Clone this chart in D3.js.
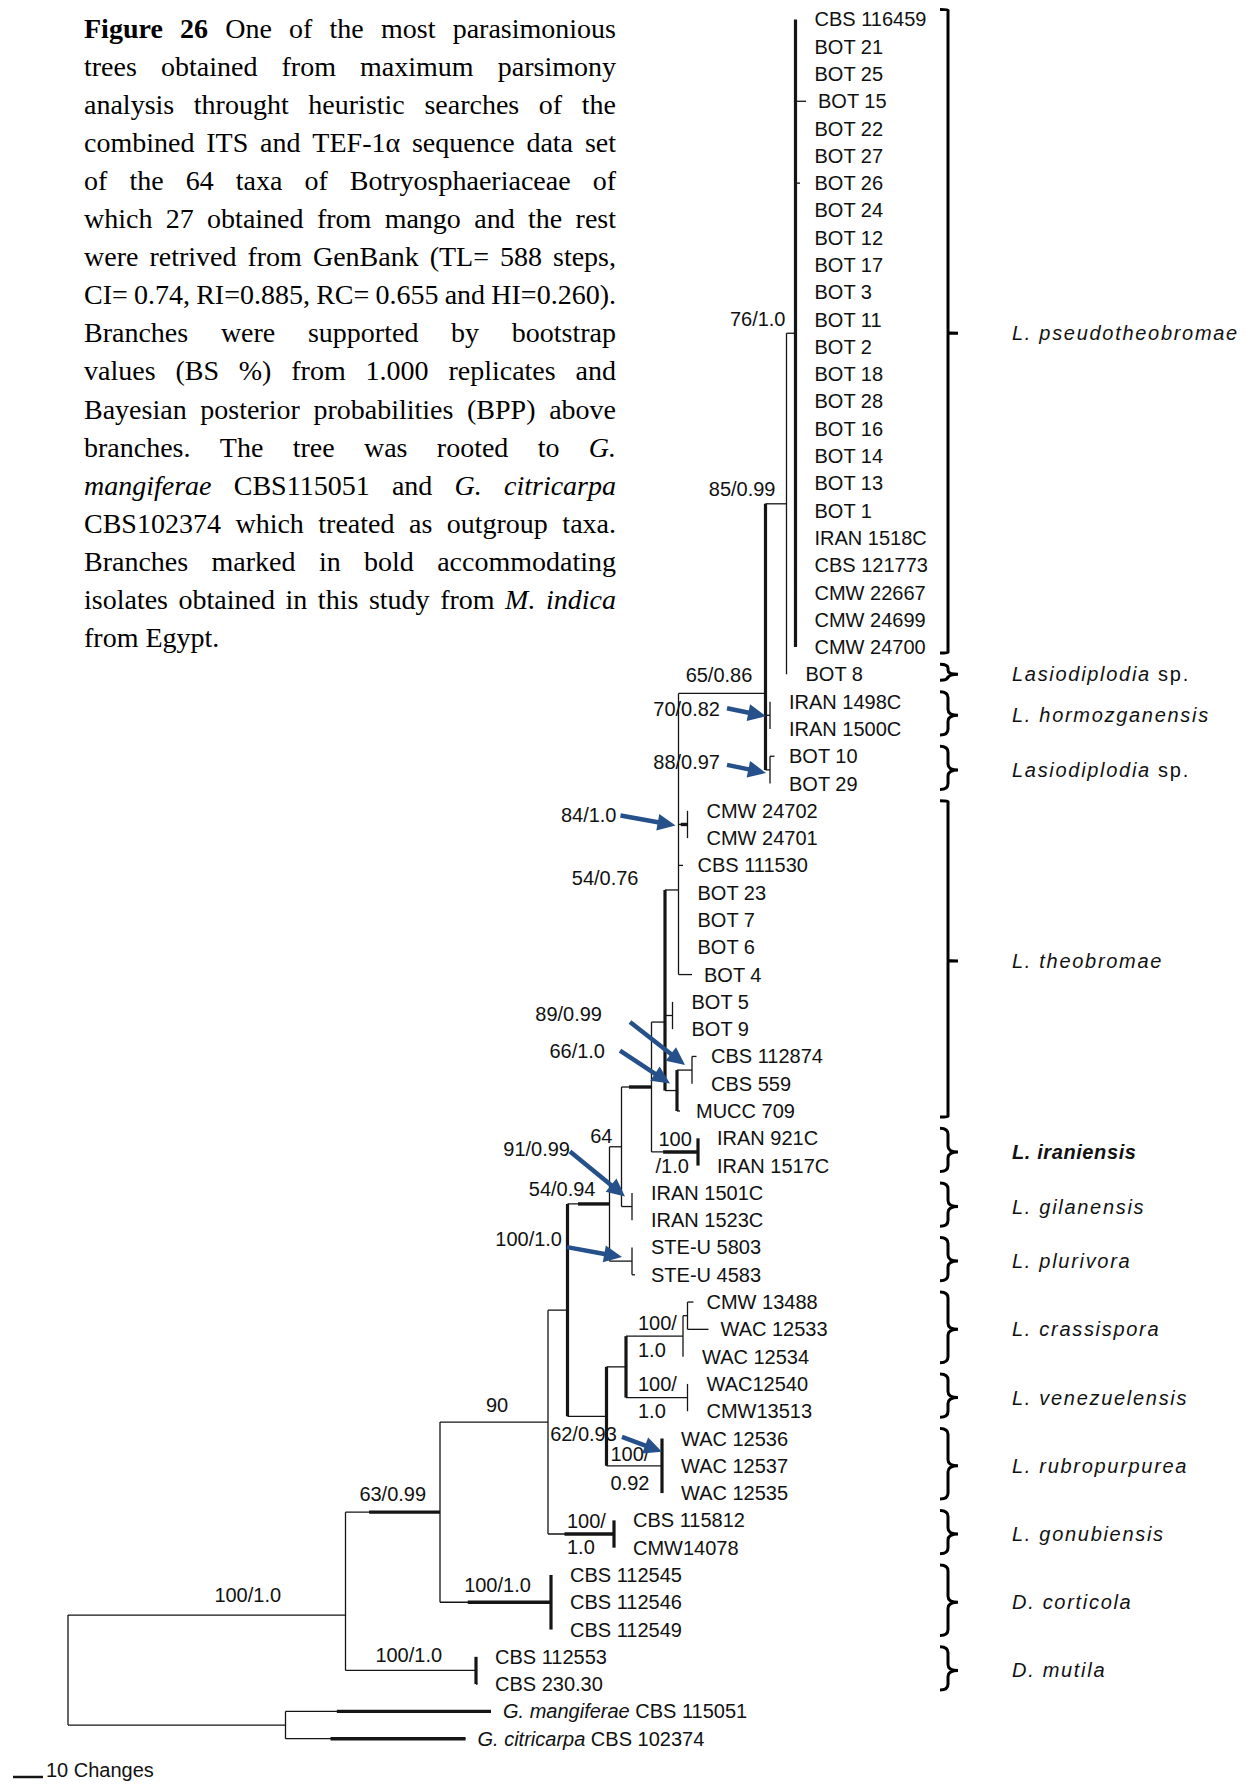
<!DOCTYPE html>
<html>
<head>
<meta charset="utf-8">
<script src="https://cdn.jsdelivr.net/npm/d3@7"></script>
<style>
body { margin: 0; background: #fff; }
svg { display: block; }
.taxon, .support, .scale { font-family: "Liberation Sans", Arial, sans-serif; font-size: 20px; fill: #111; }
.species { font-family: "Liberation Sans", Arial, sans-serif; font-size: 20px; fill: #111; letter-spacing: 1.7px; }
.caption text { font-family: "Liberation Serif", "Times New Roman", serif; font-size: 28px; fill: #000; }
</style>
</head>
<body>
<svg id="chart" width="1253" height="1787"></svg>
<script>
// Taxa, top to bottom as listed in the figure
const taxa = [
  "CBS 116459", "BOT 21", "BOT 25", "BOT 15", "BOT 22", "BOT 27", "BOT 26", "BOT 24",
  "BOT 12", "BOT 17", "BOT 3", "BOT 11", "BOT 2", "BOT 18", "BOT 28", "BOT 16",
  "BOT 14", "BOT 13", "BOT 1", "IRAN 1518C", "CBS 121773", "CMW 22667", "CMW 24699", "CMW 24700",
  "BOT 8", "IRAN 1498C", "IRAN 1500C", "BOT 10", "BOT 29", "CMW 24702", "CMW 24701", "CBS 111530",
  "BOT 23", "BOT 7", "BOT 6", "BOT 4", "BOT 5", "BOT 9", "CBS 112874", "CBS 559",
  "MUCC 709", "IRAN 921C", "IRAN 1517C", "IRAN 1501C", "IRAN 1523C", "STE-U 5803", "STE-U 4583", "CMW 13488",
  "WAC 12533", "WAC 12534", "WAC12540", "CMW13513", "WAC 12536", "WAC 12537", "WAC 12535", "CBS 115812",
  "CMW14078", "CBS 112545", "CBS 112546", "CBS 112549", "CBS 112553", "CBS 230.30",
  "G. mangiferae CBS 115051", "G. citricarpa CBS 102374"
];

// Tree edges: [node, parent, branch length in changes]
const edges = [
  ["root", null, 0],
  ["A", "root", 92.5],
  ["OUT", "root", 72.5],
  ["G. mangiferae CBS 115051", "OUT", 68.5],
  ["G. citricarpa CBS 102374", "OUT", 60],
  ["B", "A", 31.5],
  ["Dmut", "A", 43.5],
  ["CBS 112553", "Dmut", 0],
  ["CBS 230.30", "Dmut", 0.5],
  ["C", "B", 36],
  ["Dcort", "B", 37],
  ["CBS 112545", "Dcort", 0],
  ["CBS 112546", "Dcort", 0],
  ["CBS 112549", "Dcort", 0],
  ["D", "C", 6.5],
  ["Gonub", "C", 22],
  ["CBS 115812", "Gonub", 0],
  ["CMW14078", "Gonub", 0],
  ["E", "D", 13],
  ["G", "D", 14],
  ["F", "E", 6.5],
  ["Rubro", "E", 18.5],
  ["WAC 12536", "Rubro", 0],
  ["WAC 12537", "Rubro", 0],
  ["WAC 12535", "Rubro", 0],
  ["Crass", "F", 19],
  ["Crass2", "Crass", 1.5],
  ["CMW 13488", "Crass2", 2],
  ["WAC 12533", "Crass2", 7],
  ["WAC 12534", "Crass", 0],
  ["Venez", "F", 20.5],
  ["WAC12540", "Venez", 0],
  ["CMW13513", "Venez", 0],
  ["H", "G", 4],
  ["Pluri", "G", 7.5],
  ["STE-U 5803", "Pluri", 0],
  ["STE-U 4583", "Pluri", 1],
  ["Gilan", "H", 3.5],
  ["IRAN 1501C", "Gilan", 0],
  ["IRAN 1523C", "Gilan", 0],
  ["I", "H", 10],
  ["Iran", "I", 15.5],
  ["IRAN 921C", "Iran", 0],
  ["IRAN 1517C", "Iran", 0],
  ["J", "I", 4.5],
  ["N54", "J", 4.5],
  ["B59", "J", 2.5],
  ["BOT 5", "B59", 0],
  ["BOT 9", "B59", 0],
  ["N66", "J", 4],
  ["N89", "N66", 5],
  ["CBS 112874", "N89", 1.5],
  ["CBS 559", "N89", 0],
  ["MUCC 709", "N66", 1],
  ["N65", "N54", 29],
  ["N84", "N54", 3],
  ["CMW 24702", "N84", 0],
  ["CMW 24701", "N84", 0],
  ["CBS 111530", "N54", 1.5],
  ["BOT 23", "N54", 0],
  ["BOT 7", "N54", 0],
  ["BOT 6", "N54", 0],
  ["BOT 4", "N54", 4.5],
  ["N85", "N65", 7],
  ["N70", "N65", 1.5],
  ["IRAN 1498C", "N70", 0],
  ["IRAN 1500C", "N70", 0],
  ["N88", "N65", 1.5],
  ["BOT 10", "N88", 1.5],
  ["BOT 29", "N88", 0],
  ["BOT 8", "N85", 0],
  ["Pseudo", "N85", 3],
  ["CBS 116459", "Pseudo", 0],
  ["BOT 21", "Pseudo", 0],
  ["BOT 25", "Pseudo", 0],
  ["BOT 15", "Pseudo", 3.5],
  ["BOT 22", "Pseudo", 0],
  ["BOT 27", "Pseudo", 0],
  ["BOT 26", "Pseudo", 1.5],
  ["BOT 24", "Pseudo", 0],
  ["BOT 12", "Pseudo", 0],
  ["BOT 17", "Pseudo", 0],
  ["BOT 3", "Pseudo", 0],
  ["BOT 11", "Pseudo", 0],
  ["BOT 2", "Pseudo", 0],
  ["BOT 18", "Pseudo", 0],
  ["BOT 28", "Pseudo", 0],
  ["BOT 16", "Pseudo", 0],
  ["BOT 14", "Pseudo", 0],
  ["BOT 13", "Pseudo", 0],
  ["BOT 1", "Pseudo", 0],
  ["IRAN 1518C", "Pseudo", 0],
  ["CBS 121773", "Pseudo", 0],
  ["CMW 22667", "Pseudo", 0],
  ["CMW 24699", "Pseudo", 0],
  ["CMW 24700", "Pseudo", 0]
];

// nodes not drawn at the middle of their children (row)
const nodeRows = { A: 58.47, N65: 24.7, N54: 31.9, J: 36.74 };

// bootstrap / posterior support: [node, text above, text below]
const support = [
  ["Pseudo", "76/1.0"], ["N85", "85/0.99"], ["N65", "65/0.86"], ["N70", "70/0.82"],
  ["N88", "88/0.97"], ["N84", "84/1.0"], ["N54", "54/0.76"], ["N89", "89/0.99"],
  ["N66", "66/1.0"], ["Iran", "100", "/1.0"], ["H", "64"], ["Gilan", "91/0.99"],
  ["G", "54/0.94"], ["Pluri", "100/1.0"], ["Crass", "100/", "1.0"], ["Venez", "100/", "1.0"],
  ["E", "62/0.93"], ["Rubro", "100/", "0.92"], ["Gonub", "100/", "1.0"], ["C", "90"],
  ["B", "63/0.99"], ["Dcort", "100/1.0"], ["Dmut", "100/1.0"], ["A", "100/1.0"]
];

// nodes pointed at with an arrow
const arrowed = ["N70", "N88", "N84", "N89", "N66", "Gilan", "Pluri", "Rubro"];

// branches drawn in bold
const boldBranches = ["G. mangiferae CBS 115051", "G. citricarpa CBS 102374", "B", "Dcort", "Gonub", "Iran", "G", "I", "N84"];
const boldStems = ["D", "E", "F", "Rubro", "Dmut", "Dcort", "Iran", "Gonub", "N66", "J", "N65", "Pseudo"];

// species brackets: [italic name, plain suffix, first taxon, last taxon]
const groups = [
  ["L. pseudotheobromae", "", 0, 23],
  ["Lasiodiplodia", " sp.", 24, 24],
  ["L. hormozganensis", "", 25, 26],
  ["Lasiodiplodia", " sp.", 27, 28],
  ["L. theobromae", "", 29, 40],
  ["L. iraniensis", "", 41, 42],
  ["L. gilanensis", "", 43, 44],
  ["L. plurivora", "", 45, 46],
  ["L. crassispora", "", 47, 49],
  ["L. venezuelensis", "", 50, 51],
  ["L. rubropurpurea", "", 52, 54],
  ["L. gonubiensis", "", 55, 56],
  ["D. corticola", "", 57, 59],
  ["D. mutila", "", 60, 61]
];
const newSpecies = "L. iraniensis";

const scaleBar = [10, "10 Changes"];

// caption lines (**bold**, _italic_)
const captionLines = [
  "**Figure** **26** One of the most parasimonious",
  "trees obtained from maximum parsimony",
  "analysis throught heuristic searches of the",
  "combined ITS and TEF-1α sequence data set",
  "of the 64 taxa of Botryosphaeriaceae of",
  "which 27 obtained from mango and the rest",
  "were retrived from GenBank (TL= 588 steps,",
  "CI= 0.74, RI=0.885, RC= 0.655 and HI=0.260).",
  "Branches were supported by bootstrap",
  "values (BS %) from 1.000 replicates and",
  "Bayesian posterior probabilities (BPP) above",
  "branches. The tree was rooted to _G._",
  "_mangiferae_ CBS115051 and _G._ _citricarpa_",
  "CBS102374 which treated as outgroup taxa.",
  "Branches marked in bold accommodating",
  "isolates obtained in this study from _M._ _indica_",
  "from Egypt."
];

// ---- layout ----
const supportPos = {
  Pseudo: { ref: "start", anchor: "end", dx: -1, dy: -14 },
  N85:   { ref: "node", anchor: "end", dx: -11, dy: -15 },
  N65:   { ref: "mid", anchor: "middle", dx: -3, dy: -18 },
  N70:   { ref: "node", anchor: "end", dx: -50, dy: -6 },
  N88:   { ref: "node", anchor: "end", dx: -50, dy: -8 },
  N84:   { ref: "node", anchor: "end", dx: -71, dy: -9 },
  N54:   { ref: "node", anchor: "end", dx: -40, dy: -12 },
  N89:   { ref: "node", anchor: "end", dx: -90, dy: -56 },
  N66:   { ref: "node", anchor: "end", dx: -72, dy: -40 },
  Iran:  { ref: "start", anchor: "start", dx: 7, dy: -13, dx2: 4, dy2: 14 },
  H:     { ref: "node", anchor: "end", dx: -9, dy: -11 },
  Gilan: { ref: "node", anchor: "end", dx: -62, dy: -58 },
  G:     { ref: "node", anchor: "end", dx: -14, dy: -15 },
  Pluri: { ref: "node", anchor: "end", dx: -70, dy: -22 },
  Crass: { ref: "start", anchor: "start", dx: 12, dy: -13, dx2: 12, dy2: 14 },
  Venez: { ref: "start", anchor: "start", dx: 12, dy: -14, dx2: 12, dy2: 13 },
  E:     { ref: "node", anchor: "middle", dx: -23, dy: 18 },
  Rubro: { ref: "start", anchor: "start", dx: 4, dy: -12, dx2: 4, dy2: 17 },
  Gonub: { ref: "start", anchor: "start", dx: 19, dy: -13, dx2: 19, dy2: 13 },
  C:     { ref: "mid", anchor: "middle", dx: 3, dy: -17 },
  B:     { ref: "mid", anchor: "middle", dx: 0, dy: -18 },
  Dcort: { ref: "mid", anchor: "middle", dx: 2, dy: -17 },
  Dmut:  { ref: "mid", anchor: "middle", dx: -2, dy: -15 },
  A:     { ref: "mid", anchor: "middle", dx: 41, dy: -20 }
};
// arrow tail and head, relative to the node
const arrowPos = {
  N70: [-43, -7, -4, 1],
  N88: [-43, -5, -4, 3],
  N84: [-67, -9, -12, 1],
  N89: [-62, -48, -7, -5],
  N66: [-57, -40, -7, -7],
  Gilan: [-62, -55, -7, -10],
  Pluri: [-65, -14, -10, -4],
  Rubro: [-40, -29, 0, -14]
};

const svg = d3.select("#chart");
const X = d3.scaleLinear().domain([0, 250]).range([68, 818]);
const Y = d3.scaleLinear().domain([0, taxa.length - 1]).range([19.4, 1738.7]);
const ink = "#151515";
const arrowColor = "#25508a";

// Build the tree
const root = d3.stratify()
  .id(d => d[0])
  .parentId(d => d[1])(edges);

root.eachBefore(n => { n.len = n.parent ? n.parent.len + n.data[2] : 0; });
root.eachAfter(n => {
  if (!n.children) n.row = taxa.indexOf(n.id);
  else if (n.id in nodeRows) n.row = nodeRows[n.id];
  else {
    const r = n.children.map(c => c.row);
    n.row = (d3.min(r) + d3.max(r)) / 2;
  }
});
const byId = new Map(root.descendants().map(n => [n.id, n]));

const gTree = svg.append("g").attr("stroke", ink).attr("fill", "none");

// horizontal branches
gTree.selectAll("line.branch")
  .data(root.descendants().filter(n => n.parent && n.data[2] > 0))
  .join("line")
  .attr("class", "branch")
  .attr("x1", n => X(n.parent.len))
  .attr("x2", n => X(n.len))
  .attr("y1", n => Y(n.row))
  .attr("y2", n => Y(n.row))
  .attr("stroke-width", 1.3);

// vertical stems
gTree.selectAll("line.stem")
  .data(root.descendants().filter(n => n.children))
  .join("line")
  .attr("class", "stem")
  .attr("x1", n => X(n.len))
  .attr("x2", n => X(n.len))
  .attr("y1", n => Y(d3.min(n.children, c => c.row)))
  .attr("y2", n => Y(d3.max(n.children, c => c.row)))
  .attr("stroke-width", n => boldStems.includes(n.id) ? 3.2 : 1.3);

// bold overlays on branches
gTree.selectAll("line.bold")
  .data(boldBranches.map(id => byId.get(id)))
  .join("line")
  .attr("class", "bold")
  .attr("x1", n => X(n.parent.len) + 0.25 * (X(n.len) - X(n.parent.len)))
  .attr("x2", n => X(n.len))
  .attr("y1", n => Y(n.row))
  .attr("y2", n => Y(n.row))
  .attr("stroke-width", 3.4);

// taxon labels
const leafText = svg.append("g").selectAll("text")
  .data(root.leaves())
  .join("text")
  .attr("class", "taxon")
  .attr("x", n => Math.max(X(n.parent.len) + 19, X(n.len) + 12))
  .attr("y", n => Y(n.row))
  .attr("dominant-baseline", "central");
leafText.each(function(n) {
  const m = n.id.match(/^(G\. \S+)( .*)$/);
  const t = d3.select(this);
  if (m) {
    t.append("tspan").attr("font-style", "italic").text(m[1]);
    t.append("tspan").text(m[2]);
  } else t.text(n.id);
});

// support values
const gSup = svg.append("g");
support.forEach(([id, top, bottom]) => {
  const n = byId.get(id), p = supportPos[id];
  const nx = X(n.len), ny = Y(n.row), sx = X(n.parent.len);
  const rx = p.ref === "node" ? nx : p.ref === "start" ? sx : (sx + nx) / 2;
  gSup.append("text").attr("class", "support")
    .attr("x", rx + p.dx).attr("y", ny + p.dy)
    .attr("text-anchor", p.anchor).attr("dominant-baseline", "central")
    .text(top);
  if (bottom) {
    gSup.append("text").attr("class", "support")
      .attr("x", rx + p.dx2).attr("y", ny + p.dy2)
      .attr("text-anchor", p.anchor).attr("dominant-baseline", "central")
      .text(bottom);
  }
});

// arrows
const gArr = svg.append("g");
arrowed.forEach(id => {
  const n = byId.get(id), a = arrowPos[id];
  const nx = X(n.len), ny = Y(n.row);
  const x1 = nx + a[0], y1 = ny + a[1], x2 = nx + a[2], y2 = ny + a[3];
  const L = Math.hypot(x2 - x1, y2 - y1), ux = (x2 - x1) / L, uy = (y2 - y1) / L;
  const hl = 18, hw = 8.5;
  const bx = x2 - ux * hl, by = y2 - uy * hl;
  gArr.append("line")
    .attr("x1", x1).attr("y1", y1).attr("x2", bx + ux * 3).attr("y2", by + uy * 3)
    .attr("stroke", arrowColor).attr("stroke-width", 4.5);
  gArr.append("path")
    .attr("d", `M${x2},${y2}L${bx - uy * hw},${by + ux * hw}L${bx + uy * hw},${by - ux * hw}Z`)
    .attr("fill", arrowColor);
});

// species brackets (long groups get a square bracket, short ones a brace)
const bx = 948, labelX = 1012;
const gGrp = svg.append("g");
groups.forEach(([name, suffix, first, last]) => {
  const top = Y(first) - 10, bot = Y(last) + 6, mid = (Y(first) + Y(last)) / 2;
  const r = last - first > 5 ? 0.5 : Math.min(6, (bot - top) / 4);
  gGrp.append("path")
    .attr("d", `M${bx - 8},${top}Q${bx},${top} ${bx},${top + r}L${bx},${mid - r}` +
      `Q${bx},${mid} ${bx + 10},${mid}Q${bx},${mid} ${bx},${mid + r}L${bx},${bot - r}Q${bx},${bot} ${bx - 8},${bot}`)
    .attr("fill", "none").attr("stroke", "#000").attr("stroke-width", 3);
  const t = gGrp.append("text").attr("class", "species")
    .attr("x", labelX).attr("y", mid).attr("dominant-baseline", "central");
  const isNew = name === newSpecies;
  t.append("tspan").attr("font-style", "italic")
    .attr("font-weight", isNew ? "bold" : null)
    .style("letter-spacing", isNew ? "0.6px" : null)
    .text(name);
  if (suffix) t.append("tspan").text(suffix);
});

// scale bar
const barLen = X(scaleBar[0]) - X(0);
svg.append("line")
  .attr("x1", 43 - barLen).attr("x2", 43).attr("y1", 1777).attr("y2", 1777)
  .attr("stroke", ink).attr("stroke-width", 2.5);
svg.append("text").attr("class", "scale")
  .attr("x", 46).attr("y", 1770).attr("dominant-baseline", "central")
  .text(scaleBar[1]);

// caption, justified
const capLeft = 84, capRight = 616, capTop = 38, capStep = 38.05;
const cap = svg.append("g").attr("class", "caption");
captionLines.forEach((line, i) => {
  const words = line.split(" ").map(w => {
    if (/^\*\*.*\*\*$/.test(w)) return { t: w.slice(2, -2), s: "b" };
    if (/^_.*_$/.test(w)) return { t: w.slice(1, -1), s: "i" };
    return { t: w, s: "" };
  });
  const y = capTop + i * capStep;
  const nodes = words.map(w => cap.append("text")
    .attr("y", y)
    .attr("font-weight", w.s === "b" ? "bold" : null)
    .attr("font-style", w.s === "i" ? "italic" : null)
    .text(w.t));
  const widths = nodes.map(t => t.node().getComputedTextLength());
  const last = i === captionLines.length - 1;
  const gap = last ? 7 : (capRight - capLeft - d3.sum(widths)) / (words.length - 1);
  let x = capLeft;
  nodes.forEach((t, j) => { t.attr("x", x); x += widths[j] + gap; });
});
</script>
</body>
</html>
